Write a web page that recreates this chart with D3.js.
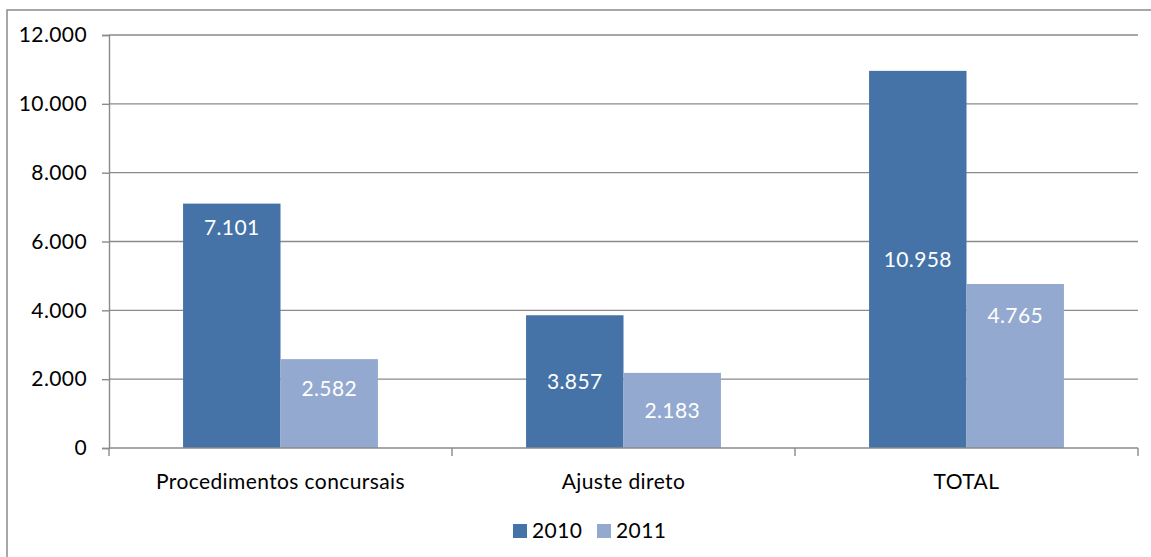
<!DOCTYPE html>
<html>
<head>
<meta charset="utf-8">
<script src="https://cdn.jsdelivr.net/npm/d3@7/dist/d3.min.js"></script>
<style>
  html, body { margin: 0; padding: 0; background: #fff; }
  svg { display: block; font-family: Lato, "Open Sans", sans-serif; }
  text { letter-spacing: 0.4px; }
</style>
</head>
<body>
<svg id="chart" width="1151" height="557"></svg>
<script>
// Contratos por tipo de procedimento, 2010 vs 2011
const categories = ["Procedimentos concursais", "Ajuste direto", "TOTAL"];
const seriesNames = ["2010", "2011"];
const values2010 = [7101, 3857, 10958];
const values2011 = [2582, 2183, 4765];
const yTicks = [0, 2000, 4000, 6000, 8000, 10000, 12000];

const colors = { "2010": "#4573a7", "2011": "#93a9cf" };
const gridColor = "#8a8a8a";
const fontSize = 21;

// label vertical placement: pixels below the bar top, or null to centre in the bar
const labelInset = {
  "2010": [24, null, null],
  "2011": [30, null, 32]
};

const fmt = v => d3.format(",")(v).replace(/,/g, ".");

const svg = d3.select("#chart");

// outer chart frame (runs off the right and bottom edges)
svg.append("rect")
  .attr("x", 7).attr("y", 10)
  .attr("width", 1170).attr("height", 580)
  .attr("fill", "none")
  .attr("stroke", gridColor)
  .attr("stroke-width", 1.5);

const plot = { left: 109, right: 1138, top: 35, bottom: 448 };

const x0 = d3.scaleBand().domain(categories).range([plot.left, plot.right]).paddingInner(0).paddingOuter(0);
const x1 = d3.scaleBand().domain(seriesNames).range([0, x0.bandwidth()]).paddingInner(0).paddingOuter(0.76);
const y = d3.scaleLinear().domain([0, 12000]).range([plot.bottom, plot.top]);

// horizontal gridlines
svg.append("g")
  .selectAll("line")
  .data(yTicks.filter(t => t > 0))
  .join("line")
  .attr("x1", plot.left).attr("x2", plot.right)
  .attr("y1", d => y(d)).attr("y2", d => y(d))
  .attr("stroke", gridColor).attr("stroke-width", 1.4);

// y axis
const yAxis = svg.append("g")
  .attr("transform", `translate(${plot.left},0)`)
  .call(d3.axisLeft(y).tickValues(yTicks).tickFormat(fmt).tickSize(7).tickPadding(15));
yAxis.select(".domain").attr("stroke", gridColor).attr("stroke-width", 1.4);
yAxis.selectAll(".tick line").attr("stroke", gridColor).attr("stroke-width", 1.4);
yAxis.selectAll(".tick text")
  .attr("fill", "#000").attr("font-size", fontSize).attr("font-family", "Lato, sans-serif");

// bars
const rows = categories.map((c, i) => ({
  category: c,
  items: [
    { series: "2010", value: values2010[i], idx: i },
    { series: "2011", value: values2011[i], idx: i }
  ]
}));

const groups = svg.append("g").selectAll("g")
  .data(rows)
  .join("g")
  .attr("transform", d => `translate(${x0(d.category)},0)`);

groups.selectAll("rect")
  .data(d => d.items)
  .join("rect")
  .attr("x", d => x1(d.series))
  .attr("y", d => y(d.value))
  .attr("width", x1.bandwidth())
  .attr("height", d => y(0) - y(d.value))
  .attr("fill", d => colors[d.series]);

groups.selectAll("text.val")
  .data(d => d.items)
  .join("text")
  .attr("class", "val")
  .attr("x", d => x1(d.series) + x1.bandwidth() / 2)
  .attr("y", d => {
    const inset = labelInset[d.series][d.idx];
    return inset == null ? (y(d.value) + y(0)) / 2 : y(d.value) + inset;
  })
  .attr("dy", "0.35em")
  .attr("text-anchor", "middle")
  .attr("fill", "#fff")
  .attr("font-size", fontSize)
  .text(d => fmt(d.value));

// x axis baseline and category ticks
svg.append("line")
  .attr("x1", plot.left).attr("x2", plot.right)
  .attr("y1", y(0)).attr("y2", y(0))
  .attr("stroke", gridColor).attr("stroke-width", 1.4);

const bounds = categories.map(c => x0(c)).concat([plot.right]);
svg.append("g").selectAll("line")
  .data(bounds)
  .join("line")
  .attr("x1", d => d).attr("x2", d => d)
  .attr("y1", y(0)).attr("y2", y(0) + 8)
  .attr("stroke", gridColor).attr("stroke-width", 1.4);

svg.append("g").selectAll("text")
  .data(categories)
  .join("text")
  .attr("x", d => x0(d) + x0.bandwidth() / 2)
  .attr("y", 482)
  .attr("dy", "0.35em")
  .attr("text-anchor", "middle")
  .attr("fill", "#000")
  .attr("font-size", fontSize)
  .text(d => d);

// legend
const legend = svg.append("g").attr("transform", "translate(513,531)");
const legendX = [0, 84];
seriesNames.forEach((s, i) => {
  const g = legend.append("g").attr("transform", `translate(${legendX[i]},0)`);
  g.append("rect").attr("x", 0).attr("y", -7).attr("width", 14).attr("height", 14).attr("fill", colors[s]);
  g.append("text").attr("x", 19).attr("y", 0).attr("dy", "0.35em")
    .attr("font-size", fontSize).attr("fill", "#000").text(s);
});
</script>
</body>
</html>
